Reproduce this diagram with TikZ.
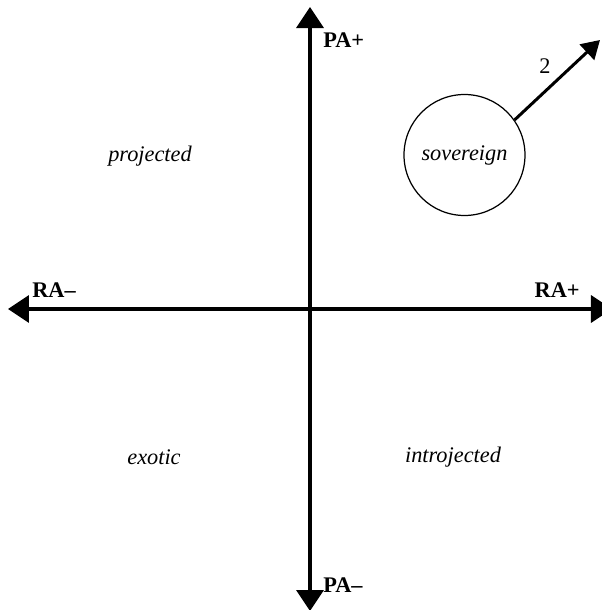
\documentclass[tikz,border=0pt]{standalone}
\usepackage{fontspec}
\setmainfont{Liberation Serif}
\usetikzlibrary{arrows.meta, positioning}
\tikzset{
  axis/.style={line width=2pt, -{Triangle[length=0.42cm, width=0.54cm]}},
  axislabel/.style={font=\fontsize{12.7}{15}\selectfont\bfseries, inner sep=0pt},
  zone/.style={font=\fontsize{12.7}{15}\selectfont\itshape, inner sep=0pt},
  regime/.style={circle, draw, line width=0.7pt, minimum size=2.42cm,
    font=\fontsize{12.7}{15}\selectfont\itshape},
  move/.style={line width=1.7pt, -{Triangle[length=0.36cm, width=0.42cm]}}
}

\begin{document}
\begin{tikzpicture}
  \useasboundingbox (-6.2,-6.02) rectangle (5.84,6.18);

  % Axis ends
  \coordinate (O) at (0,0);
  \coordinate (RAneg) at (-6.04,0);
  \coordinate (RApos) at (6.04,0);
  \coordinate (PApos) at (0,6.04);
  \coordinate (PAneg) at (0,-6.04);

  % Draw Axes
  \draw[axis] (O) -- (RAneg);
  \draw[axis] (O) -- (RApos);
  \draw[axis] (O) -- (PApos);
  \draw[axis] (O) -- (PAneg);

  % Axis labels
  \node[axislabel, anchor=base west] (lpapos) at (0.26,5.24) {PA+};
  \node[axislabel, anchor=base west] (lpaneg) at (0.26,-5.66) {PA--};
  \node[axislabel, anchor=base west] (lraneg) at (-5.56,0.24) {RA--};
  \node[axislabel, anchor=base east] (lrapos) at (5.4,0.24) {RA+};

  % Quadrants
  \node[zone, anchor=base] (projected) at (-3.2,2.96) {projected};
  \node[zone, anchor=base] (exotic) at (-3.12,-3.1) {exotic};
  \node[zone, anchor=base] (introjected) at (2.86,-3.06) {introjected};

  % Sovereign circle and its move
  \node[regime] (sovereign) at (3.09,3.08) {sovereign};
  \coordinate (target) at (5.8,5.38);
  \draw[move] (sovereign.35) -- (target)
    node[midway, above left, font=\fontsize{12.7}{15}\selectfont, inner sep=3pt] (step2) {2};
\end{tikzpicture}
\end{document}
